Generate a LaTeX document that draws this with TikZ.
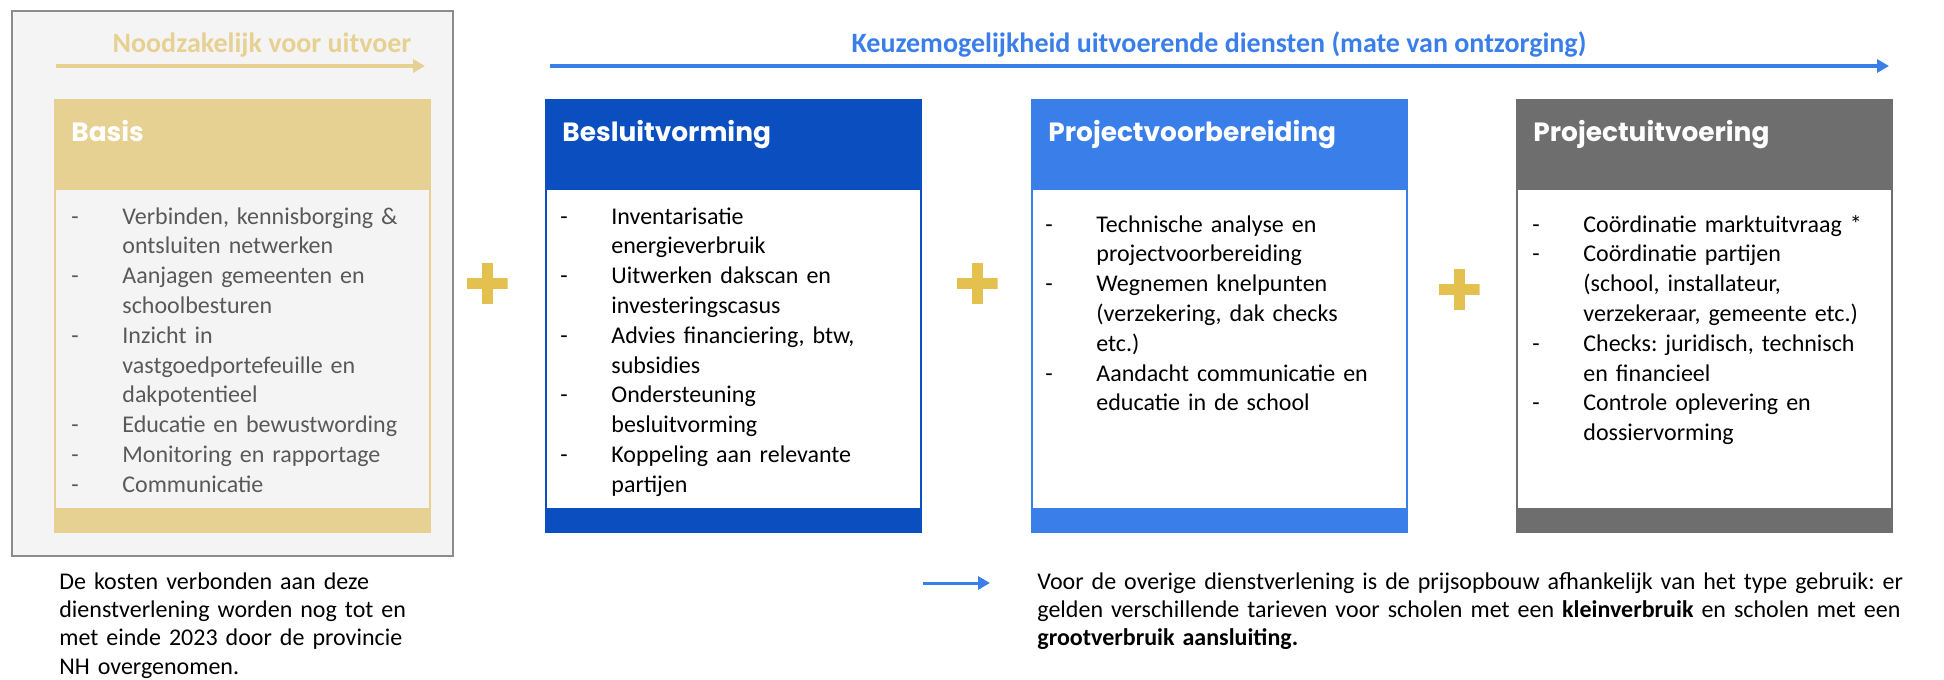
\documentclass[tikz,border=0pt]{standalone}
\usepackage{fontspec}
\setmainfont{Carlito}
\newfontfamily\headfont{Poppins}
\usetikzlibrary{arrows.meta}
\frenchspacing

\definecolor{goldhdr}{HTML}{E6D193}
\definecolor{goldplus}{HTML}{E4C14F}
\definecolor{besblue}{HTML}{0A4EBF}
\definecolor{prepblue}{HTML}{3A7EEA}
\definecolor{execgray}{HTML}{6E6E6E}
\definecolor{basebg}{HTML}{F4F4F4}
\definecolor{framegray}{HTML}{8C8C8C}
\definecolor{basistext}{HTML}{595959}

% lijstitem met streepje en hangende inspringing
\newcommand{\dashitem}[1]{\noindent\hangindent=25.5pt\hangafter=1\makebox[25.5pt][l]{-}#1\par}

\tikzset{
    title/.style={anchor=base, inner sep=0pt, font=\bfseries\fontsize{14}{16}\selectfont},
    boxframe/.style={anchor=north west, inner sep=0pt, outer sep=0pt, minimum width=188.5pt, minimum height=217pt},
    boxbody/.style={anchor=north west, inner sep=0pt, outer sep=0pt, minimum width=186.5pt, minimum height=159pt},
    header/.style={anchor=base west, inner sep=0pt, text=white, font=\headfont\bfseries\fontsize{13.2}{16}\selectfont},
    itemlist/.style={anchor=base west, inner sep=0pt, text width=180pt, align=left, font=\fontsize{12}{14.9}\selectfont},
    note/.style={anchor=base west, inner sep=0pt, align=left, font=\fontsize{12}{14.2}\selectfont},
    plusmark/.style={minimum size=20.5pt, inner sep=0pt, path picture={
        \fill[goldplus] ([xshift=-10.25pt,yshift=-2.75pt]path picture bounding box.center) rectangle ++(20.5pt,5.5pt);
        \fill[goldplus] ([xshift=-2.75pt,yshift=-10.25pt]path picture bounding box.center) rectangle ++(5.5pt,20.5pt);
    }}
}

\begin{document}
\begin{tikzpicture}[x=0.5pt, y=-0.5pt, >={Triangle[length=6pt, width=6.5pt]}]
    \useasboundingbox (0,0) rectangle (1944,680);

    % grijs kader basis
    \node[draw=framegray, line width=1pt, fill=basebg, anchor=north west, inner sep=0pt, minimum width=220.5pt, minimum height=272.5pt] (frame) at (11,10) {};

    % pijlen bovenaan
    \node[title, text=goldhdr] (need) at (262,53) {Noodzakelijk voor uitvoer};
    \coordinate (needL) at (56,66);
    \coordinate (needR) at (425,66);
    \draw[->, goldhdr, line width=2pt] (needL) -- (needR);

    \node[title, text=prepblue] (choice) at (1219,53) {Keuzemogelijkheid uitvoerende diensten (mate van ontzorging)};
    \coordinate (choiceL) at (550,66);
    \coordinate (choiceR) at (1889,66);
    \draw[->, prepblue, line width=2pt] (choiceL) -- (choiceR);

    % vier blokken
    \foreach \nm/\x/\col/\bg/\title in {basis/54/goldhdr/basebg/Basis, besluit/545/besblue/white/Besluitvorming, prep/1031/prepblue/white/Projectvoorbereiding, exec/1516/execgray/white/Projectuitvoering} {
        \node[boxframe, fill=\col] (\nm) at (\x,99) {};
        \node[boxbody, fill=\bg] (\nm body) at (\x+2,190) {};
        \node[header] (\nm head) at (\x+17,141) {\title};
    }

    % lijsten
    \node[itemlist, text=basistext] (basislist) at (71,224) {%
        \dashitem{Verbinden, kennisborging \&\newline ontsluiten netwerken}
        \dashitem{Aanjagen gemeenten en\newline schoolbesturen}
        \dashitem{Inzicht in\newline vastgoedportefeuille en\newline dakpotentieel}
        \dashitem{Educatie en bewustwording}
        \dashitem{Monitoring en rapportage}
        \dashitem{Communicatie}};

    \node[itemlist] (besluitlist) at (560,224) {%
        \dashitem{Inventarisatie\newline energieverbruik}
        \dashitem{Uitwerken dakscan en\newline investeringscasus}
        \dashitem{Advies financiering, btw,\newline subsidies}
        \dashitem{Ondersteuning\newline besluitvorming}
        \dashitem{Koppeling aan relevante\newline partijen}};

    \node[itemlist] (preplist) at (1045,232) {%
        \dashitem{Technische analyse en\newline projectvoorbereiding}
        \dashitem{Wegnemen knelpunten\newline (verzekering, dak checks\newline etc.)}
        \dashitem{Aandacht communicatie en\newline educatie in de school}};

    \node[itemlist] (execlist) at (1532,232) {%
        \dashitem{Coördinatie marktuitvraag *}
        \dashitem{Coördinatie partijen\newline (school, installateur,\newline verzekeraar, gemeente etc.)}
        \dashitem{Checks: juridisch, technisch\newline en financieel}
        \dashitem{Controle oplevering en\newline dossiervorming}};

    % plustekens
    \foreach \px/\py [count=\i] in {487/283, 977/283, 1459/289} {
        \node[plusmark] (plus\i) at (\px,\py) {};
    }

    % opmerkingen onderaan
    \node[note, text width=200pt] (costnote) at (59,589) {De kosten verbonden aan deze\\dienstverlening worden nog tot en\\met einde 2023 door de provincie\\NH overgenomen.};

    \coordinate (noteL) at (923,583);
    \coordinate (noteR) at (990,583);
    \draw[->, prepblue, line width=1.5pt] (noteL) -- (noteR);
    \node[note, text width=460pt] (tarifnote) at (1037,589) {Voor de overige dienstverlening is de prijsopbouw afhankelijk van het type gebruik: er\\gelden verschillende tarieven voor scholen met een \textbf{kleinverbruik} en scholen met een\\\textbf{grootverbruik aansluiting.}};
\end{tikzpicture}
\end{document}
